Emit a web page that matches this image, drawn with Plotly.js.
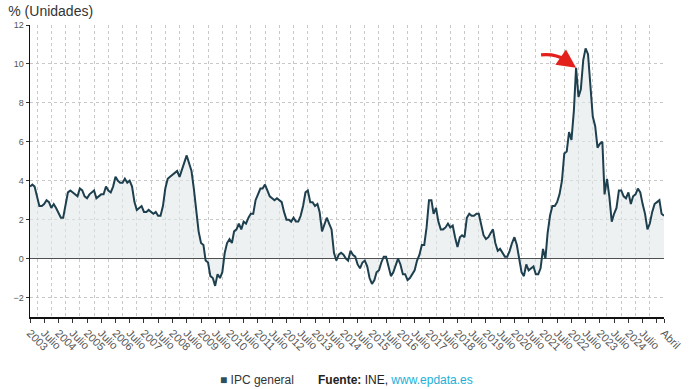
<!DOCTYPE html>
<html>
<head>
<meta charset="utf-8">
<script src="https://cdn.plot.ly/plotly-3.0.1.min.js"></script>
<style>
html,body{margin:0;padding:0;background:#fff;}
#chart{width:690px;height:389px;}
</style>
</head>
<body>
<div id="chart"></div>
<script>
// IPC general, tasa anual (%), mensual desde enero 2003 hasta abril 2025
var startYear = 2003;
var ipc2003 = [3.7,3.8,3.7,3.1,2.7,2.7,2.8,3.0,2.9,2.6,2.8,2.6];
var ipc2004 = [2.3,2.1,2.1,2.7,3.4,3.5,3.4,3.3,3.2,3.6,3.5,3.2];
var ipc2005 = [3.1,3.3,3.4,3.5,3.1,3.2,3.3,3.3,3.7,3.5,3.4,3.7];
var ipc2006 = [4.2,4.0,3.9,3.9,4.1,3.9,4.0,3.7,2.9,2.5,2.6,2.7];
var ipc2007 = [2.4,2.4,2.5,2.4,2.3,2.4,2.2,2.2,2.7,3.6,4.1,4.2];
var ipc2008 = [4.3,4.4,4.5,4.2,4.6,5.0,5.3,4.9,4.5,3.6,2.4,1.4];
var ipc2009 = [0.8,0.7,-0.1,-0.2,-0.9,-1.0,-1.4,-0.8,-1.0,-0.7,0.3,0.8];
var ipc2010 = [1.0,0.8,1.4,1.5,1.8,1.5,1.9,1.8,2.1,2.3,2.3,3.0];
var ipc2011 = [3.3,3.6,3.6,3.8,3.5,3.2,3.1,3.0,3.1,3.0,2.9,2.4];
var ipc2012 = [2.0,2.0,1.9,2.1,1.9,1.9,2.2,2.7,3.4,3.5,2.9,2.9];
var ipc2013 = [2.7,2.8,2.4,1.4,1.7,2.1,1.8,1.5,0.3,-0.1,0.2,0.3];
var ipc2014 = [0.2,0.0,-0.1,0.4,0.2,0.1,-0.3,-0.5,-0.2,-0.1,-0.4,-1.0];
var ipc2015 = [-1.3,-1.1,-0.7,-0.6,-0.2,0.1,0.1,-0.4,-0.9,-0.7,-0.3,0.0];
var ipc2016 = [-0.3,-0.8,-0.8,-1.1,-1.0,-0.8,-0.6,-0.1,0.2,0.7,0.7,1.6];
var ipc2017 = [3.0,3.0,2.3,2.6,1.9,1.5,1.5,1.6,1.8,1.6,1.7,1.1];
var ipc2018 = [0.6,1.1,1.2,1.1,2.1,2.3,2.2,2.2,2.3,2.3,1.7,1.2];
var ipc2019 = [1.0,1.1,1.3,1.5,0.8,0.4,0.5,0.3,0.1,0.1,0.4,0.8];
var ipc2020 = [1.1,0.7,0.0,-0.7,-0.9,-0.3,-0.6,-0.5,-0.4,-0.8,-0.8,-0.5];
var ipc2021 = [0.5,0.0,1.3,2.2,2.7,2.7,2.9,3.3,4.0,5.4,5.5,6.5];
var ipc2022 = [6.1,7.6,9.8,8.3,8.7,10.2,10.8,10.5,8.9,7.3,6.8,5.7];
var ipc2023 = [5.9,6.0,3.3,4.1,3.2,1.9,2.3,2.6,3.5,3.5,3.2,3.1];
var ipc2024 = [3.4,2.8,3.2,3.3,3.6,3.4,2.8,2.3,1.5,1.8,2.4,2.8];
var ipc2025 = [2.9,3.0,2.3,2.2];

var tickText = ["2003","Julio","2004","Julio","2005","Julio","2006","Julio","2007","Julio",
  "2008","Julio","2009","Julio","2010","Julio","2011","Julio","2012","Julio",
  "2013","Julio","2014","Julio","2015","Julio","2016","Julio","2017","Julio",
  "2018","Julio","2019","Julio","2020","Julio","2021","Julio","2022","Julio",
  "2023","Julio","2024","Julio","","Abril"];
var tickVals = [];
for (var yy = 2003; yy <= 2024; yy++) { tickVals.push(yy + "-01-01"); tickVals.push(yy + "-07-01"); }
tickVals.push("2025-01-01"); tickVals.push("2025-04-01");

var yearly = [ipc2003,ipc2004,ipc2005,ipc2006,ipc2007,ipc2008,ipc2009,ipc2010,ipc2011,ipc2012,
  ipc2013,ipc2014,ipc2015,ipc2016,ipc2017,ipc2018,ipc2019,ipc2020,ipc2021,ipc2022,ipc2023,ipc2024,ipc2025];
var fechas = [], valores = [];
yearly.forEach(function(arr, i){
  arr.forEach(function(v, m){
    var mm = (m + 1 < 10 ? "0" : "") + (m + 1);
    fechas.push((startYear + i) + "-" + mm + "-01");
    valores.push(v);
  });
});

// Punto señalado por la flecha: marzo 2022
var flechaIdx = fechas.indexOf("2022-03-01");

var FONT = '"Liberation Sans", Arial, Helvetica, sans-serif';

var trace = {
  x: fechas, y: valores, type: 'scatter', mode: 'lines',
  name: 'IPC general',
  line: {color: '#1e3f4e', width: 2},
  fill: 'tozeroy', fillcolor: 'rgba(226,231,234,0.6)',
  hoverinfo: 'x+y', showlegend: false
};

var layout = {
  width: 690, height: 389,
  margin: {l: 30, r: 26, t: 25, b: 72},
  paper_bgcolor: '#fff', plot_bgcolor: '#fff',
  font: {family: FONT, color: '#444'},
  title: {text: '% (Unidades)', x: 0.012, xanchor: 'left', y: 0.985, yanchor: 'top',
          font: {family: FONT, size: 14, color: '#333'}},
  xaxis: {
    type: 'date',
    range: ['2003-01-01', '2025-04-01'],
    tickmode: 'array', tickvals: tickVals, ticktext: tickText,
    tickangle: 45,
    tickfont: {family: FONT, size: 11, color: '#555'},
    ticks: 'outside', ticklen: 4, tickcolor: '#333', tickwidth: 1,
    showline: true, linecolor: '#111', linewidth: 1.5,
    showgrid: false, zeroline: false,
    minor: {tick0: '2003-04-01', dtick: 'M6', showgrid: true, gridcolor: '#c8c8c8',
            griddash: 'dot', gridwidth: 1, ticks: ''}
  },
  yaxis: {
    range: [-3, 12],
    tickvals: [-2, 0, 2, 4, 6, 8, 10, 12],
    tickfont: {family: FONT, size: 9, color: '#555'},
    ticks: 'outside', ticklen: 3, tickcolor: '#333',
    showline: true, linecolor: '#111', linewidth: 1.5,
    showgrid: true, gridcolor: '#c8c8c8', griddash: 'dot', gridwidth: 1,
    zeroline: true, zerolinecolor: '#111', zerolinewidth: 1.2
  },
  shapes: [{
    type: 'path', xref: 'x', yref: 'y',
    xsizemode: 'pixel', ysizemode: 'pixel',
    xanchor: fechas[flechaIdx], yanchor: valores[flechaIdx],
    path: 'M -35 13 C -24 14, -17 12, -11 8',
    line: {color: '#e3201b', width: 3.4}
  }],
  annotations: [
    {x: fechas[flechaIdx], y: valores[flechaIdx], xref: 'x', yref: 'y',
     ax: -13, ay: -9, axref: 'pixel', ayref: 'pixel',
     text: '', showarrow: true, arrowhead: 2, arrowsize: 1.1, arrowwidth: 3.4,
     arrowcolor: '#e3201b', standoff: 0},
    {xref: 'paper', yref: 'paper', xanchor: 'left', yanchor: 'middle',
     x: (218 - 30) / 634, y: -(380 - 317) / 292,
     text: '<span style="color:#2e4f5c">■</span> IPC general',
     showarrow: false, font: {family: FONT, size: 12, color: '#333'}},
    {xref: 'paper', yref: 'paper', xanchor: 'left', yanchor: 'middle',
     x: (316 - 30) / 634, y: -(380 - 317) / 292,
     text: '<b>Fuente:</b> INE, <span style="color:#1ab0d8">www.epdata.es</span>',
     showarrow: false, font: {family: FONT, size: 12, color: '#222'}}
  ]
};

Plotly.newPlot('chart', [trace], layout, {displayModeBar: false, staticPlot: true});
</script>
</body>
</html>
